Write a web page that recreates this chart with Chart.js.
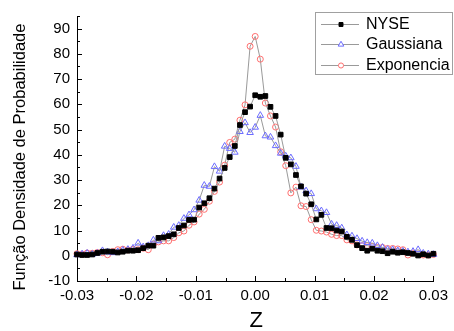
<!DOCTYPE html>
<html>
<head>
<meta charset="utf-8">
<script src="https://cdn.jsdelivr.net/npm/chart.js@4/dist/chart.umd.min.js"></script>
<style>
  html, body { margin: 0; padding: 0; background: #fff; }
  canvas { display: block; }
</style>
</head>
<body>
<canvas id="chart" width="454" height="331"></canvas>
<script>
// Bin centres of the return histogram (Z)
const zValues = [
  -0.03, -0.02914, -0.02829, -0.02743, -0.02657, -0.02571, -0.02486, -0.024, -0.02314, -0.02229,
  -0.02143, -0.02057, -0.01971, -0.01886, -0.018, -0.01714, -0.01629, -0.01543, -0.01457, -0.01371,
  -0.01286, -0.012, -0.01114, -0.01029, -0.00943, -0.00857, -0.00771, -0.00686, -0.006, -0.00514,
  -0.00429, -0.00343, -0.00257, -0.00171, -0.00086, 0,
  0.00086, 0.00171, 0.00257, 0.00343, 0.00429, 0.00514, 0.006, 0.00686, 0.00771, 0.00857,
  0.00943, 0.01029, 0.01114, 0.012, 0.01286, 0.01371, 0.01457, 0.01543, 0.01629, 0.01714,
  0.018, 0.01886, 0.01971, 0.02057, 0.02143, 0.02229, 0.02314, 0.024, 0.02486, 0.02571,
  0.02657, 0.02743, 0.02829, 0.02914, 0.03
];

// Empirical density of NYSE returns
const nyse = [
  0.5, 0.3, 0.3, 0.5, 1.1, 1.6, 1.7, 1.6, 1.3, 1.6,
  2.0, 2.0, 2.2, 3.0, 4.0, 4.0, 7.1, 7.3, 7.8, 8.5,
  11.0, 12.0, 14.2, 14.3, 19.1, 20.8, 22.8, 26.6, 30.6, 34.8,
  39.1, 43.5, 51.8, 56.9, 59.1, 63.6,
  63.0, 63.3, 59.0, 55.4, 48.0, 38.8, 36.2, 32.0, 27.5, 24.6,
  20.4, 14.4, 16.2, 11.0, 10.9, 10.0, 9.6, 7.5, 6.3, 4.2,
  3.0, 2.0, 2.8, 2.0, 1.8, 1.0, 1.6, 1.2, 1.4, 1.1,
  0.8, 0.1, 0.6, 0.1, 0.8
];

// Gaussian model
const gaussiana = [
  0.4, 0.7, 1.0, 0.6, 1.0, 2.0, 1.5, 1.2, 1.6, 2.2,
  2.5, 3.0, 5.0, 3.5, 4.0, 6.2, 5.9, 8.0, 8.5, 11.3,
  12.0, 14.8, 16.2, 18.2, 22.0, 27.9, 27.5, 35.3, 33.5, 43.4,
  42.5, 41.0, 49.2, 52.7, 48.8, 50.9,
  55.6, 47.5, 47.0, 43.6, 40.6, 39.5, 38.8, 35.4, 27.2, 25.7,
  24.6, 18.6, 17.8, 17.1, 12.5, 12.0, 11.0, 8.3, 7.8, 6.8,
  5.8, 5.2, 5.0, 4.0, 3.3, 2.5, 2.4, 2.0, 1.8, 1.5,
  1.7, 2.4, 1.0, 0.7, 0.5
];

// Exponential model
const exponencia = [
  0.8, 0.6, 1.1, 1.0, 1.3, 1.2, 0.4, 1.7, 2.4, 2.6,
  2.3, 2.6, 2.4, 3.0, 2.4, 4.6, 5.5, 5.9, 5.9, 7.2,
  9.1, 9.8, 12.1, 13.4, 16.5, 18.4, 21.6, 25.5, 29.2, 35.9,
  44.9, 46.2, 53.7, 59.8, 83.0, 86.9,
  77.9, 60.5, 55.4, 51.0, 41.2, 35.7, 24.9, 27.2, 19.8, 19.5,
  14.3, 10.1, 9.8, 9.4, 8.5, 8.0, 8.0, 6.3, 5.9, 4.3,
  4.0, 4.0, 3.7, 3.3, 3.3, 2.9, 2.9, 2.7, 2.4, 0.3,
  1.1, 0.7, 0.3, 0.3, 0.5
];

const seriesNames = ['NYSE', 'Gaussiana', 'Exponencia'];
const xAxisTitle = 'Z';
const yAxisTitle = 'Função Densidade de Probabilidade';

const FONT = '"Liberation Sans", Arial, Helvetica, sans-serif';
const LINE_GREY = '#9a9a9a';

const pairs = ys => zValues.map((z, i) => ({ x: z, y: ys[i] }));

const styles = [
  { pointStyle: 'rect', pointRadius: 3.3, stroke: '#000000', fill: '#000000' },
  { pointStyle: 'triangle', pointRadius: 3.8, stroke: '#6c6cff', fill: 'rgba(255,255,255,0)' },
  { pointStyle: 'circle', pointRadius: 3.0, stroke: '#ff7070', fill: 'rgba(255,255,255,0)' }
];

const datasets = [nyse, gaussiana, exponencia].map((ys, i) => ({
  label: seriesNames[i],
  data: pairs(ys),
  borderColor: LINE_GREY,
  borderWidth: 1,
  tension: 0,
  pointStyle: styles[i].pointStyle,
  pointRadius: styles[i].pointRadius,
  pointBorderColor: styles[i].stroke,
  pointBackgroundColor: styles[i].fill,
  pointBorderWidth: 1,
  clip: false
}));

function isMajorX(v) { return Math.round(v * 1000) % 10 === 0; }
function isMajorY(v) { return Math.round(v) % 10 === 0; }

function drawMarker(ctx, style, x, y, legendFill) {
  ctx.save();
  ctx.lineWidth = 1;
  ctx.strokeStyle = style.stroke;
  ctx.fillStyle = style.pointStyle === 'rect' ? style.fill : legendFill;
  ctx.beginPath();
  if (style.pointStyle === 'rect') {
    const s = style.pointRadius * Math.SQRT1_2;
    ctx.rect(x - s, y - s, 2 * s, 2 * s);
  } else if (style.pointStyle === 'triangle') {
    const r = style.pointRadius;
    ctx.moveTo(x, y - r);
    ctx.lineTo(x + r * Math.sin(Math.PI * 2 / 3), y - r * Math.cos(Math.PI * 2 / 3));
    ctx.lineTo(x - r * Math.sin(Math.PI * 2 / 3), y - r * Math.cos(Math.PI * 2 / 3));
    ctx.closePath();
  } else {
    ctx.arc(x, y, style.pointRadius, 0, Math.PI * 2);
  }
  ctx.fill();
  ctx.stroke();
  ctx.restore();
}

const decorations = {
  id: 'decorations',
  beforeDraw(chart) {
    const ctx = chart.ctx;
    ctx.save();
    ctx.fillStyle = '#ffffff';
    ctx.fillRect(0, 0, chart.width, chart.height);
    ctx.restore();
  },
  afterDraw(chart) {
    const ctx = chart.ctx;
    const area = chart.chartArea;
    const xs = chart.scales.x;
    const ys = chart.scales.y;

    // inward tick marks
    ctx.save();
    ctx.strokeStyle = '#000';
    ctx.lineWidth = 1;
    ctx.beginPath();
    xs.ticks.forEach(t => {
      const px = Math.round(xs.getPixelForValue(t.value)) + 0.5;
      const len = isMajorX(t.value) ? 5 : 3;
      ctx.moveTo(px, area.bottom);
      ctx.lineTo(px, area.bottom - len);
    });
    ys.ticks.forEach(t => {
      const py = Math.round(ys.getPixelForValue(t.value)) + 0.5;
      const len = isMajorY(t.value) ? 5 : 3;
      ctx.moveTo(area.left, py);
      ctx.lineTo(area.left + len, py);
    });
    ctx.stroke();
    ctx.restore();

    // axis titles
    ctx.save();
    ctx.fillStyle = '#000';
    ctx.textAlign = 'center';
    ctx.textBaseline = 'middle';
    ctx.font = '22px ' + FONT;
    ctx.fillText(xAxisTitle, (area.left + area.right) / 2 + 1, 321);
    ctx.translate(20, 157);
    ctx.rotate(-Math.PI / 2);
    ctx.font = '16.5px ' + FONT;
    ctx.fillText(yAxisTitle, 0, 0);
    ctx.restore();

    // legend
    ctx.save();
    ctx.strokeStyle = '#a0a0a0';
    ctx.lineWidth = 1;
    ctx.strokeRect(315.5, 12.5, 137, 62);
    const rows = [23.5, 44, 64.5];
    chart.data.datasets.forEach((ds, i) => {
      const y = rows[i];
      ctx.strokeStyle = ds.borderColor;
      ctx.beginPath();
      ctx.moveTo(321, Math.round(y) + 0.5);
      ctx.lineTo(359, Math.round(y) + 0.5);
      ctx.stroke();
      drawMarker(ctx, Object.assign({}, styles[i], { pointRadius: styles[i].pointRadius * 0.85 }), 341, Math.round(y) + 0.5, '#ffffff');
      ctx.fillStyle = '#000';
      ctx.font = '16px ' + FONT;
      ctx.textAlign = 'left';
      ctx.textBaseline = 'middle';
      ctx.fillText(ds.label, 366, y + 1);
    });
    ctx.restore();
  }
};

new Chart(document.getElementById('chart'), {
  type: 'line',
  data: { datasets },
  options: {
    responsive: false,
    animation: false,
    devicePixelRatio: 1,
    layout: { padding: { top: 10, right: 19, left: 0, bottom: 0 } },
    plugins: { legend: { display: false }, tooltip: { enabled: false } },
    scales: {
      x: {
        type: 'linear',
        min: -0.03,
        max: 0.03,
        afterFit: s => { s.height = 50; },
        grid: { display: false, drawTicks: false },
        border: { display: true, color: '#000', width: 1 },
        ticks: {
          stepSize: 0.005,
          autoSkip: false,
          maxRotation: 0,
          padding: 6,
          color: '#000',
          font: { family: FONT, size: 15 },
          callback: v => {
            const r = Math.round(v * 1000);
            return r % 10 === 0 ? (r / 1000).toFixed(2) : '';
          }
        }
      },
      y: {
        type: 'linear',
        min: -10,
        max: 95,
        afterFit: s => { s.width = 77; },
        grid: { display: false, drawTicks: false },
        border: { display: true, color: '#000', width: 1 },
        ticks: {
          stepSize: 5,
          autoSkip: false,
          padding: 7,
          color: '#000',
          font: { family: FONT, size: 15 },
          callback: v => (Math.round(v) % 10 === 0 ? String(Math.round(v)) : '')
        }
      }
    }
  },
  plugins: [decorations]
});
</script>
</body>
</html>
